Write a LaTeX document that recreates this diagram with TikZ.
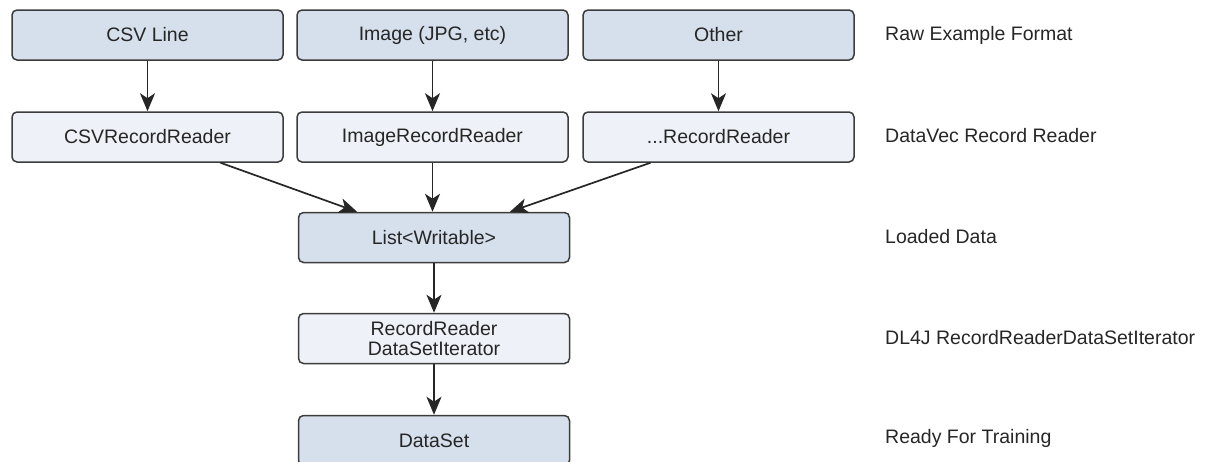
\documentclass[tikz,border=0pt]{standalone}
\usepackage{fontspec}
\setmainfont{Liberation Sans}
\usetikzlibrary{arrows.meta,calc}
\definecolor{darkfill}{HTML}{D6DFEC}
\definecolor{lightfill}{HTML}{EEF1F7}
\definecolor{edge}{HTML}{3C3C3C}
\definecolor{txt}{HTML}{262626}
\tikzset{
  box/.style={draw=edge, line width=1.5pt, rounded corners=5pt, minimum width=271pt, minimum height=50pt, inner sep=0pt, align=center, text=txt, font=\fontsize{19.5}{20}\selectfont},
  darkbox/.style={box, fill=darkfill},
  lightbox/.style={box, fill=lightfill},
  side/.style={anchor=west, text=txt, inner sep=0pt, font=\fontsize{19.5}{20}\selectfont},
  conn/.style={draw=black!85, line width=1.7pt, -{Stealth[length=18pt,width=15pt,inset=5pt]}}
}
\begin{document}
\begin{tikzpicture}[x=1pt,y=-1pt]
\useasboundingbox (0,0) rectangle (1215,461);
\clip (0,0) rectangle (1215,461);
\node[darkbox] (csv) at (147.5,35) {CSV Line};
\node[darkbox] (img) at (432.5,35) {Image (JPG, etc)};
\node[darkbox] (oth) at (718.5,35) {Other};
\node[lightbox] (csvrr) at (147.5,137) {CSVRecordReader};
\node[lightbox] (imgrr) at (432.5,137) {ImageRecordReader};
\node[lightbox] (othrr) at (718.5,137) {...RecordReader};
\node[darkbox] (list) at (434,237.5) {List<Writable>};
\node[lightbox] (rrdsi) at (434,338.5) {RecordReader\\DataSetIterator};
\node[darkbox] (ds) at (434,440.5) {DataSet};
\node[side] (l1) at (885,35) {Raw Example Format};
\node[side] (l2) at (885,136) {DataVec Record Reader};
\node[side] (l3) at (885,237) {Loaded Data};
\node[side] (l4) at (885,338) {DL4J RecordReaderDataSetIterator};
\node[side] (l5) at (885,438) {Ready For Training};
\draw[conn] (csv) -- (csvrr);
\draw[conn] (img) -- (imgrr);
\draw[conn] (oth) -- (othrr);
\draw[conn] ($(csvrr.south)+(73,0)$) -- ($(list.north)+(-77,0)$);
\draw[conn] (imgrr.south) -- (imgrr.south |- list.north);
\draw[conn] ($(othrr.south)+(-68,0)$) -- ($(list.north)+(76,0)$);
\draw[conn] (list) -- (rrdsi);
\draw[conn] (rrdsi) -- (ds);
\end{tikzpicture}
\end{document}
